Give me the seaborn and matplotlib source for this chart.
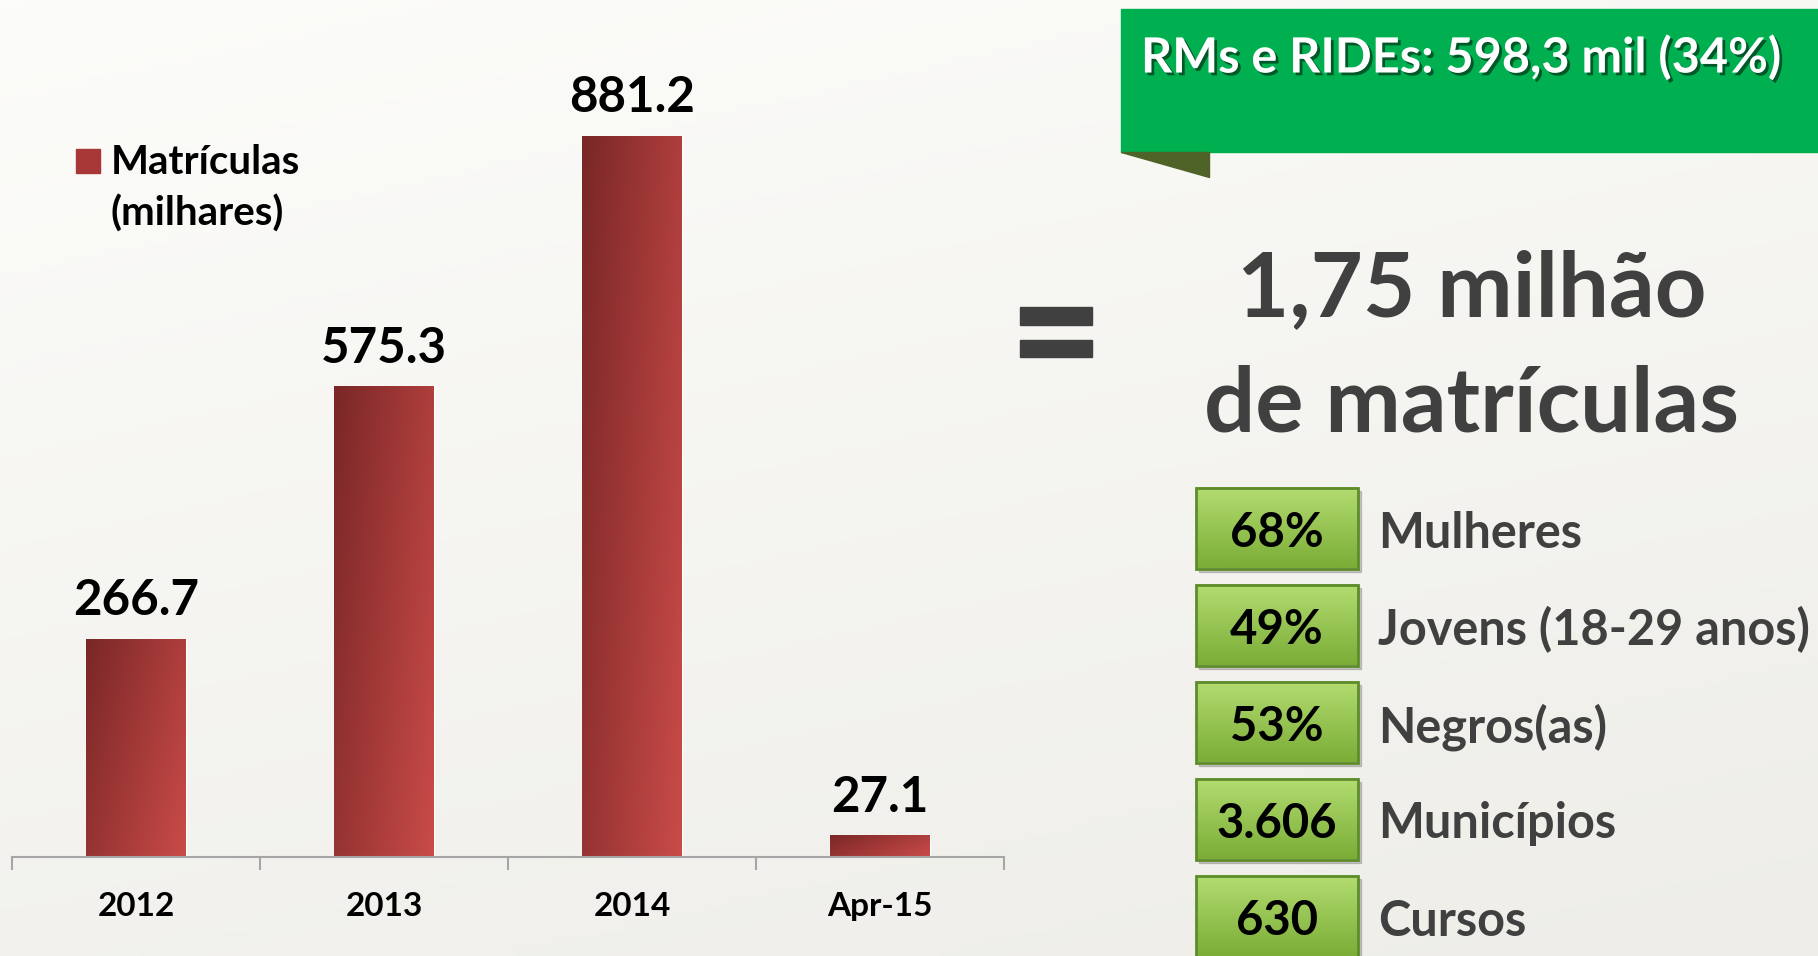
import numpy as np
import pandas as pd
import matplotlib
matplotlib.use('Agg')
import matplotlib.pyplot as plt
import matplotlib.patheffects as pe
from matplotlib.colors import LinearSegmentedColormap
from matplotlib.patches import Rectangle, Polygon
import seaborn as sns

# data
periods = ['2012', '2013', '2014', 'Apr-15']
matriculas = [266.7, 575.3, 881.2, 27.1]
legend_label = 'Matrículas\n(milhares)'

banner_text = 'RMs e RIDEs: 598,3 mil (34%)'
headline = ['1,75 milhão', 'de matrículas']
box_values = ['68%', '49%', '53%', '3.606', '630']
box_labels = ['Mulheres', 'Jovens (18-29 anos)', 'Negros(as)', 'Municípios', 'Cursos']

sns.set_style('white')
plt.rcParams['font.family'] = ['Lato', 'DejaVu Sans']
plt.rcParams['font.weight'] = 'bold'

W, H = 1818, 956
fig = plt.figure(figsize=(W / 100, H / 100), dpi=100)
fig.patch.set_facecolor('#f4f4ef')

# soft slide background
bg = fig.add_axes([0, 0, 1, 1], zorder=0)
yy, xx = np.mgrid[0:1:200j, 0:1:300j]
bg_cmap = LinearSegmentedColormap.from_list('bg', ['#fcfcfa', '#eeede8'])
bg.imshow(0.7 * yy + 0.3 * xx, cmap=bg_cmap, aspect='auto', extent=[0, 1, 0, 1], origin='upper')
bg.axis('off')

# bar chart
ax = fig.add_axes([12 / W, 1 - 857 / H, 992 / W, 857 / H], zorder=1)
ax.patch.set_alpha(0)
df = pd.DataFrame({'periodo': periods, 'matriculas': matriculas})
sns.barplot(data=df, x='periodo', y='matriculas', color='#b03a3a', width=0.4,
            saturation=1, ax=ax)

bar_cmap = LinearSegmentedColormap.from_list('bar', ['#7a2727', '#c94b48'])
gx, gy = np.meshgrid(np.linspace(0, 1, 60), np.linspace(0, 1, 120))
grad = 0.65 * gx + 0.35 * gy
for bar in list(ax.patches):
    x0, y0 = bar.get_x(), bar.get_y()
    w, h = bar.get_width(), bar.get_height()
    im = ax.imshow(grad, cmap=bar_cmap, extent=[x0, x0 + w, y0, y0 + h],
                   origin='upper', aspect='auto', zorder=bar.get_zorder() + 0.1)
    im.set_clip_path(bar)

ax.bar_label(ax.containers[0], labels=[f'{v:.1f}' for v in matriculas],
             padding=11, fontsize=35.5, fontweight='bold', color='black')

ax.set_xlim(-0.5, 3.5)
ax.set_ylim(0, 1046.8)
ax.set_xlabel('')
ax.set_ylabel('')
ax.set_yticks([])
ax.set_xticks(range(len(periods)))
ax.set_xticklabels(periods)
ax.set_xticks(np.arange(-0.5, len(periods), 1), minor=True)
ax.tick_params(axis='x', which='major', bottom=False, length=0, pad=25,
               labelsize=24, labelcolor='black')
ax.tick_params(axis='x', which='minor', bottom=True, length=9, width=1.5,
               color='#a6a6a6', direction='out')
for s in ['top', 'right', 'left']:
    ax.spines[s].set_visible(False)
ax.spines['bottom'].set_color('#a6a6a6')
ax.spines['bottom'].set_linewidth(1.5)

# right-hand panel and legend, drawn in pixel coordinates
ov = fig.add_axes([0, 0, 1, 1], zorder=3)
ov.patch.set_alpha(0)

# legend key
ov.add_patch(Rectangle((76, 149), 24, 24, color='#a83838'))
ov.text(111, 144, legend_label, ha='left', va='top', fontsize=29,
        linespacing=1.43, color='black')

ov.add_patch(Rectangle((1121, 9), W - 1121, 143, color='#00b050', zorder=2))
ov.add_patch(Polygon([(1121, 152), (1209, 152), (1209, 177)], closed=True,
                     color='#4f6228', zorder=2))
ov.text(1141, 57, banner_text, ha='left', va='center', fontsize=35, color='white',
        zorder=3, path_effects=[pe.withSimplePatchShadow(offset=(2, -2),
                                                         shadow_rgbFace='black', alpha=0.5)])

ov.add_patch(Rectangle((1020, 307), 72, 18, color='#404040'))
ov.add_patch(Rectangle((1020, 340), 72, 17, color='#404040'))

ov.text(1472, 290, headline[0], ha='center', va='center', fontsize=65, color='#404040')
ov.text(1472, 406, headline[1], ha='center', va='center', fontsize=65, color='#404040')

box_cmap = LinearSegmentedColormap.from_list('box', ['#b3dc70', '#7bad37'])
vgrad = np.linspace(0, 1, 50).reshape(-1, 1)
bw, bh = 162, 81
for i, (val, lab) in enumerate(zip(box_values, box_labels)):
    cy = 528 + 97 * i
    x0, y0 = 1196, cy - bh / 2
    ov.add_patch(Rectangle((x0 + 3, y0 + 3), bw, bh, color='black', alpha=0.18, zorder=1))
    ov.imshow(vgrad, cmap=box_cmap, extent=[x0, x0 + bw, y0 + bh, y0],
              origin='upper', aspect='auto', zorder=2)
    ov.add_patch(Rectangle((x0, y0), bw, bh, facecolor='none', edgecolor='#5e8c2c',
                           lw=2, zorder=3))
    ov.text(x0 + bw / 2, cy + 5, val, ha='center', va='center', fontsize=34,
            color='black', zorder=4)
    ov.text(1378, cy + 5, lab, ha='left', va='center', fontsize=35,
            color='#404040', zorder=4)

ov.set_xlim(0, W)
ov.set_ylim(H, 0)
ov.axis('off')

fig.savefig('out.png', dpi=100)
